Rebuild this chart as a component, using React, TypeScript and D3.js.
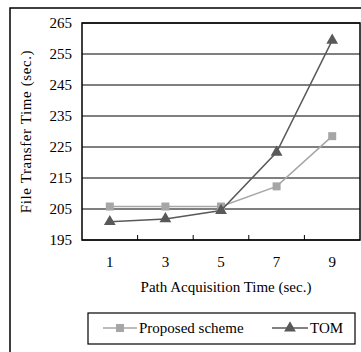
import React from 'react';
import * as d3 from 'd3';

const categories = ['1', '3', '5', '7', '9'];
const proposed = [205.8, 205.8, 205.8, 212.3, 228.5];
const tom = [200.9, 201.8, 204.5, 223.3, 259.4];
const yTicks = [195, 205, 215, 225, 235, 245, 255, 265];

const W = 361;
const H = 352;
const plot = { left: 82, right: 360, top: 23, bottom: 240 };
const txt = { fontFamily: "'Liberation Serif', 'DejaVu Serif', serif", fontSize: 15 };

export default function App() {
  const x = d3.scaleBand<string>().domain(categories).range([plot.left, plot.right]);
  const y = d3.scaleLinear().domain([195, 265]).range([plot.bottom, plot.top]);
  const cx = (c: string) => (x(c) ?? 0) + x.bandwidth() / 2;

  const line = d3.line<number>()
    .x((_, i) => cx(categories[i]))
    .y(d => y(d));

  const tri = d3.symbol().type(d3.symbolTriangle).size(60)();

  return (
    <svg width={W} height={H} style={{ position: 'absolute', left: 0, top: 0, background: '#fff' }}>
      {/* outer frame (cropped at right/bottom) */}
      <path d={`M10,${H + 2}V8H${W + 2}`} fill="none" stroke="#000" strokeWidth={1.5} />

      {/* grid */}
      {yTicks.map(t => (
        <g key={t}>
          <line x1={plot.left} x2={plot.right} y1={y(t)} y2={y(t)} stroke="#000" strokeWidth={1} />
          <text x={72} y={y(t)} dy="0.35em" textAnchor="end" style={txt}>{t}</text>
        </g>
      ))}

      {/* plot border */}
      <rect x={plot.left} y={plot.top} width={plot.right - plot.left} height={plot.bottom - plot.top}
        fill="none" stroke="#000" strokeWidth={1.5} />

      {/* x ticks between categories */}
      {categories.slice(1).map(c => (
        <line key={c} x1={x(c)} x2={x(c)} y1={plot.bottom} y2={plot.bottom - 5} stroke="#000" strokeWidth={1} />
      ))}
      {categories.map(c => (
        <text key={c} x={cx(c)} y={267} textAnchor="middle" style={txt}>{c}</text>
      ))}

      {/* axis titles */}
      <text x={(plot.left + plot.right) / 2 + 5} y={292} textAnchor="middle" style={txt}>
        Path Acquisition Time (sec.)
      </text>
      <text transform={`translate(31,${(plot.top + plot.bottom) / 2}) rotate(-90)`} textAnchor="middle"
        style={{ ...txt, letterSpacing: 0.6 }}>
        File Transfer Time (sec.)
      </text>

      {/* series */}
      <path d={line(proposed) ?? ''} fill="none" stroke="#a6a6a6" strokeWidth={1.5} />
      {proposed.map((v, i) => (
        <rect key={i} x={cx(categories[i]) - 4} y={y(v) - 4} width={8} height={8} fill="#a6a6a6" />
      ))}
      <path d={line(tom) ?? ''} fill="none" stroke="#595959" strokeWidth={1.5} />
      {tom.map((v, i) => (
        <path key={i} d={tri ?? ''} transform={`translate(${cx(categories[i])},${y(v)})`} fill="#595959" />
      ))}

      {/* legend */}
      <rect x={88} y={313} width={267} height={31} fill="#fff" stroke="#000" strokeWidth={1.2} />
      <line x1={103} x2={137} y1={328} y2={328} stroke="#a6a6a6" strokeWidth={1.5} />
      <rect x={116} y={324} width={8} height={8} fill="#a6a6a6" />
      <text x={139} y={328} dy="0.35em" style={txt}>Proposed scheme</text>
      <line x1={272} x2={308} y1={328} y2={328} stroke="#595959" strokeWidth={1.5} />
      <path d={tri ?? ''} transform="translate(290,328)" fill="#595959" />
      <text x={310} y={328} dy="0.35em" style={txt}>TOM</text>
    </svg>
  );
}
